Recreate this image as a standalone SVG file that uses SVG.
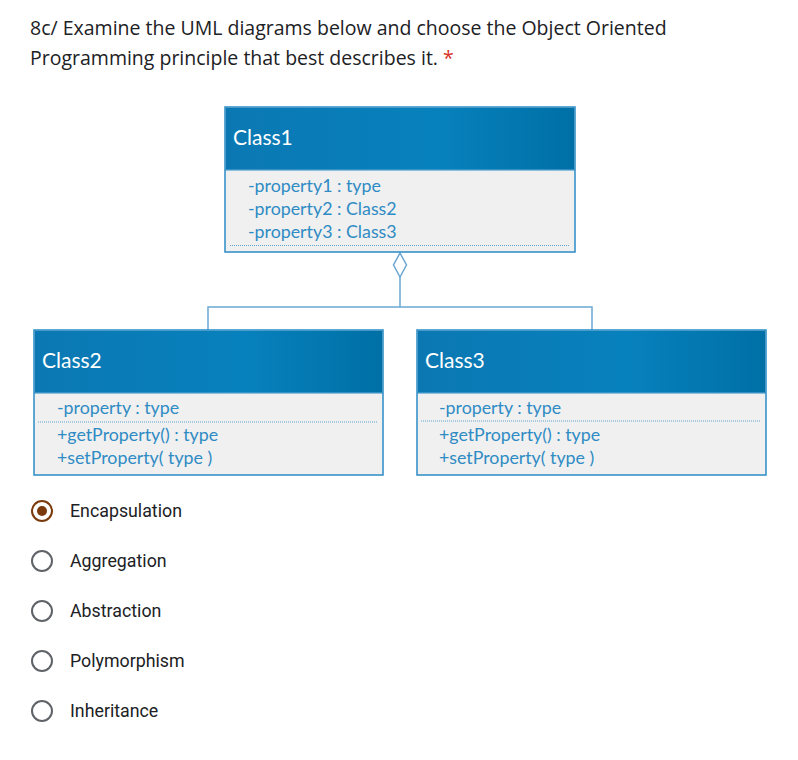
<svg xmlns="http://www.w3.org/2000/svg" width="798" height="760" viewBox="0 0 798 760">
<defs>
<linearGradient id="hdr" x1="0" y1="0" x2="1" y2="0">
<stop offset="0" stop-color="#0b78b3"/>
<stop offset="0.6" stop-color="#0781bd"/>
<stop offset="1" stop-color="#0070a6"/>
</linearGradient>
<style>
.box{fill:#f0f0f0;stroke:#2b8cc6;stroke-width:1.5}
.head{fill:url(#hdr)}
.cname{font-family:Lato,"Open Sans",sans-serif;font-size:21px;fill:#ffffff}
.mem{font-family:Lato,"Open Sans",sans-serif;font-size:17.8px;fill:#2f8bc4}
.dot{stroke:#5fa3d0;stroke-width:1;stroke-dasharray:1 1}
.conn{fill:none;stroke:#6aa8d2;stroke-width:1.5}
.q{font-family:"Open Sans",Roboto,sans-serif;font-size:19.5px;fill:#202124}
.opt{font-family:Roboto,sans-serif;font-size:17.8px;fill:#202124}
.rb{fill:none;stroke:#5f6368;stroke-width:2}
</style>
</defs>
<rect width="798" height="760" fill="#ffffff"/>
<text class="q" x="30" y="35">8c/ Examine the UML diagrams below and choose the Object Oriented</text>
<text class="q" x="30" y="65">Programming principle that best describes it. <tspan fill="#d93025">*</tspan></text>

<g id="connectors">
<polygon class="conn" points="400,253 406.5,265 400,277 393.5,265" fill="#ffffff"/>
<polyline class="conn" points="400,277 400,307"/>
<polyline class="conn" points="208,330 208,307 592,307 592,330"/>
</g>

<g id="class1">
<rect class="box" x="225" y="107" width="350" height="145"/>
<rect class="head" x="225.75" y="107.75" width="348.5" height="62"/>
<line x1="225" y1="170" x2="575" y2="170" stroke="#2b8cc6" stroke-width="1"/>
<text class="cname" x="233" y="145">Class1</text>
<text class="mem" x="248" y="192">-property1 : type</text>
<text class="mem" x="248" y="215">-property2 : Class2</text>
<text class="mem" x="248" y="238">-property3 : Class3</text>
<line class="dot" x1="230" y1="245.5" x2="570" y2="245.5"/>
</g>

<g id="class2">
<rect class="box" x="34" y="330" width="349" height="145"/>
<rect class="head" x="34.75" y="330.75" width="347.5" height="62"/>
<line x1="34" y1="393" x2="383" y2="393" stroke="#2b8cc6" stroke-width="1"/>
<text class="cname" x="42" y="368">Class2</text>
<text class="mem" x="57" y="414">-property : type</text>
<line class="dot" x1="38" y1="422" x2="378" y2="422"/>
<text class="mem" x="57" y="441">+getProperty() : type</text>
<text class="mem" x="57" y="464">+setProperty( type )</text>
</g>

<g id="class3">
<rect class="box" x="417" y="330" width="349" height="145"/>
<rect class="head" x="417.75" y="330.75" width="347.5" height="62"/>
<line x1="417" y1="393" x2="766" y2="393" stroke="#2b8cc6" stroke-width="1"/>
<text class="cname" x="425" y="368">Class3</text>
<text class="mem" x="439" y="414">-property : type</text>
<line class="dot" x1="421" y1="421" x2="761" y2="421"/>
<text class="mem" x="439" y="441">+getProperty() : type</text>
<text class="mem" x="439" y="464">+setProperty( type )</text>
</g>

<g id="options">
<circle cx="42" cy="511" r="10" fill="none" stroke="#7b3a0c" stroke-width="2"/>
<circle cx="42" cy="511" r="5" fill="#7b3a0c"/>
<text class="opt" x="70" y="517">Encapsulation</text>
<circle class="rb" cx="42" cy="561" r="10"/>
<text class="opt" x="70" y="567">Aggregation</text>
<circle class="rb" cx="42" cy="611" r="10"/>
<text class="opt" x="70" y="617">Abstraction</text>
<circle class="rb" cx="42" cy="661" r="10"/>
<text class="opt" x="70" y="667">Polymorphism</text>
<circle class="rb" cx="42" cy="711" r="10"/>
<text class="opt" x="70" y="717">Inheritance</text>
</g>
</svg>
